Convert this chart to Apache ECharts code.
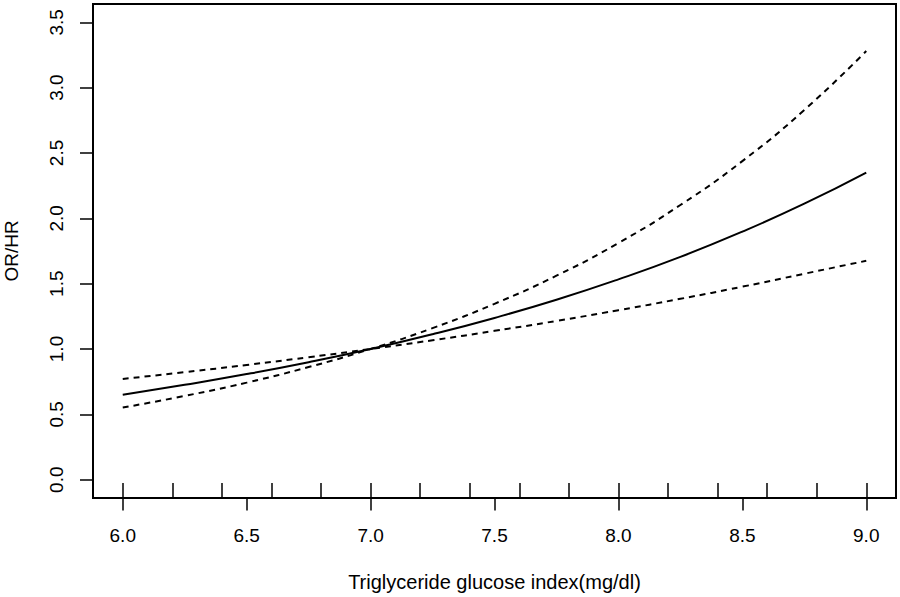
<!DOCTYPE html>
<html>
<head>
<meta charset="utf-8">
<script src="https://cdn.jsdelivr.net/npm/echarts@6/dist/echarts.min.js"></script>
<style>html,body{margin:0;padding:0;background:#fff}#c{width:900px;height:597px}</style>
</head>
<body>
<div id="c"></div>
<script>
var xValues = [6.0, 6.25, 6.5, 6.75, 7.0, 7.25, 7.5, 7.75, 8.0, 8.25, 8.5, 8.75, 9.0];
var orEstimate = [0.65, 0.726, 0.808, 0.899, 1.0, 1.113, 1.238, 1.377, 1.533, 1.705, 1.898, 2.112, 2.35];
var ciFlat = [0.771, 0.823, 0.878, 0.937, 1.0, 1.067, 1.139, 1.215, 1.297, 1.384, 1.477, 1.576, 1.675];
var ciSteep = [0.552, 0.641, 0.743, 0.862, 1.0, 1.160, 1.346, 1.561, 1.811, 2.102, 2.438, 2.829, 3.28];
var xTickLabels = [6.0, 6.5, 7.0, 7.5, 8.0, 8.5, 9.0];
var yTickLabels = [0.0, 0.5, 1.0, 1.5, 2.0, 2.5, 3.0, 3.5];
var rugValues = [6.0, 6.2, 6.4, 6.6, 6.8, 7.0, 7.2, 7.4, 7.6, 7.8, 8.0, 8.2, 8.4, 8.6, 8.8, 9.0];

function pairs(ys){ return xValues.map(function(x,i){ return [x, ys[i]]; }); }

var FONT = 'Liberation Sans, Arial, Helvetica, sans-serif';
var chart = echarts.init(document.getElementById('c'), null, {renderer:'svg'});
chart.setOption({
  animation: false,
  backgroundColor: '#fff',
  grid: {left: 93, right: 4, top: 4, bottom: 99, containLabel: false, outerBoundsMode: 'none',
    show: true, borderColor: '#000', borderWidth: 2, backgroundColor: 'transparent'},
  xAxis: [{
    type: 'value', min: 5.88, max: 9.12, position: 'bottom',
    axisLine: {show: false, onZero: false},
    splitLine: {show: false},
    axisTick: {show: true, inside: false, length: 12.5, lineStyle: {color: '#000', width: 1.5}, customValues: xTickLabels},
    axisLabel: {show: true, margin: 27.5, fontSize: 19, color: '#000', fontFamily: FONT, customValues: xTickLabels,
      formatter: function(v){ return v.toFixed(1); }},
    name: 'Triglyceride glucose index(mg/dl)', nameLocation: 'middle', nameGap: 74,
    nameTextStyle: {fontSize: 20, color: '#000', fontFamily: FONT}
  }, {
    type: 'value', min: 5.88, max: 9.12, position: 'bottom',
    axisLine: {show: false, onZero: false}, splitLine: {show: false}, axisLabel: {show: false},
    axisTick: {show: true, inside: true, length: 15, lineStyle: {color: '#000', width: 1.5}, customValues: rugValues}
  }],
  yAxis: {
    type: 'value', min: -0.14, max: 3.64, position: 'left',
    axisLine: {show: false, onZero: false},
    splitLine: {show: false},
    axisTick: {show: true, inside: false, length: 13, lineStyle: {color: '#000', width: 1.5}, customValues: yTickLabels},
    axisLabel: {show: true, margin: 27, rotate: 90, fontSize: 19, color: '#000', fontFamily: FONT, customValues: yTickLabels,
      formatter: function(v){ return v.toFixed(1); }},
    name: 'OR/HR', nameLocation: 'middle', nameGap: 72.5, nameRotate: 90,
    nameTextStyle: {fontSize: 19, color: '#000', fontFamily: FONT}
  },
  series: [
    {type: 'line', data: pairs(orEstimate), smooth: true, showSymbol: false, lineStyle: {color: '#000', width: 2}},
    {type: 'line', data: pairs(ciFlat), smooth: true, showSymbol: false, lineStyle: {color: '#000', width: 2, type: [6, 5]}},
    {type: 'line', data: pairs(ciSteep), smooth: true, showSymbol: false, lineStyle: {color: '#000', width: 2, type: [6, 5]}}
  ]
});
</script>
</body>
</html>
